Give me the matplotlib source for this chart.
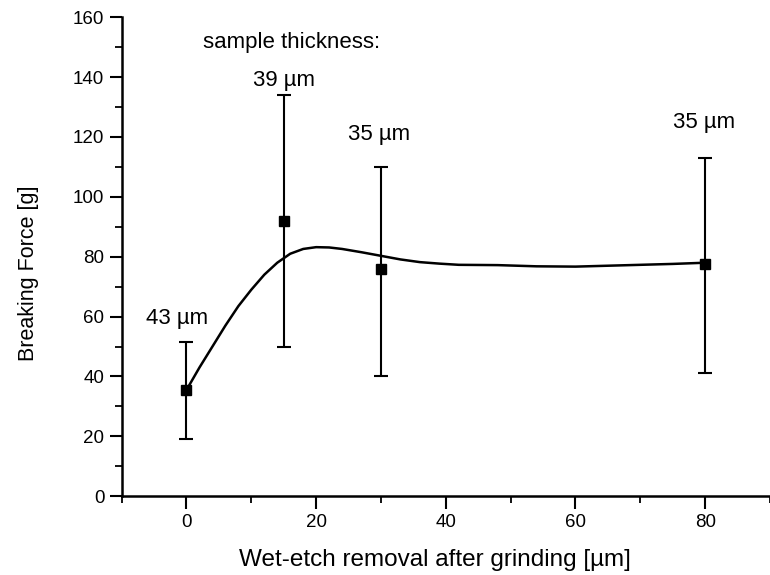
import matplotlib
matplotlib.use("Agg")
import matplotlib.pyplot as plt
from matplotlib.ticker import MultipleLocator

plt.rcParams['font.family'] = ['Liberation Sans', 'DejaVu Sans']

# measured points with error bars
removal = [0, 15, 30, 80]
force = [35.5, 92, 76, 77.5]
err_low = [19, 50, 40, 41]
err_high = [51.5, 134, 110, 113]

# fitted curve
curve_x = [0, 2, 4, 6, 8, 10, 12, 14, 16, 18, 20, 22, 24, 27,
           30, 33, 36, 39, 42, 48, 54, 60, 65, 70, 75, 80]
curve_y = [35.5, 43, 50, 57, 63.5, 69, 74, 78, 81, 82.6, 83.2, 83.1, 82.6, 81.5,
           80.3, 79.1, 78.2, 77.7, 77.3, 77.2, 76.8, 76.7, 77, 77.3, 77.6, 78]

# thickness labels
labels = ['43 µm', '39 µm', '35 µm', '35 µm']
label_x = [-1.5, 15, 29.7, 79.8]
label_y = [59.5, 139, 120.7, 124.7]

fig = plt.figure(figsize=(7.7, 5.75), dpi=100)
ax = fig.add_axes([0.158, 0.137, 0.842, 0.833])

ax.plot(curve_x, curve_y, color='black', linewidth=1.8)
yerr = [[f - lo for f, lo in zip(force, err_low)], [hi - f for f, hi in zip(force, err_high)]]
ax.errorbar(removal, force, yerr=yerr, fmt='s', color='black', markersize=7,
            elinewidth=1.5, capsize=5, capthick=1.5)

for t, x, y in zip(labels, label_x, label_y):
    ax.text(x, y, t, ha='center', va='center', fontsize=16)
ax.text(16.2, 151.5, 'sample thickness:', ha='center', va='center', fontsize=16)

ax.set_xlim(-10, 90)
ax.set_ylim(0, 160)
ax.xaxis.set_major_locator(MultipleLocator(20))
ax.xaxis.set_minor_locator(MultipleLocator(10))
ax.yaxis.set_major_locator(MultipleLocator(20))
ax.yaxis.set_minor_locator(MultipleLocator(10))
ax.tick_params(which='major', direction='out', length=9, width=1.5, labelsize=13.5)
ax.tick_params(which='minor', direction='out', length=5, width=1.3)
ax.spines['top'].set_visible(False)
ax.spines['right'].set_visible(False)
ax.spines['left'].set_linewidth(1.8)
ax.spines['bottom'].set_linewidth(1.8)

ax.set_xlabel('Wet-etch removal after grinding [µm]', fontsize=17.5)
ax.set_ylabel('Breaking Force [g]', fontsize=15.5)
ax.xaxis.set_label_coords(0.483, -0.11)
ax.yaxis.set_label_coords(-0.128, 0.466)

fig.savefig('out.png', dpi=100)
